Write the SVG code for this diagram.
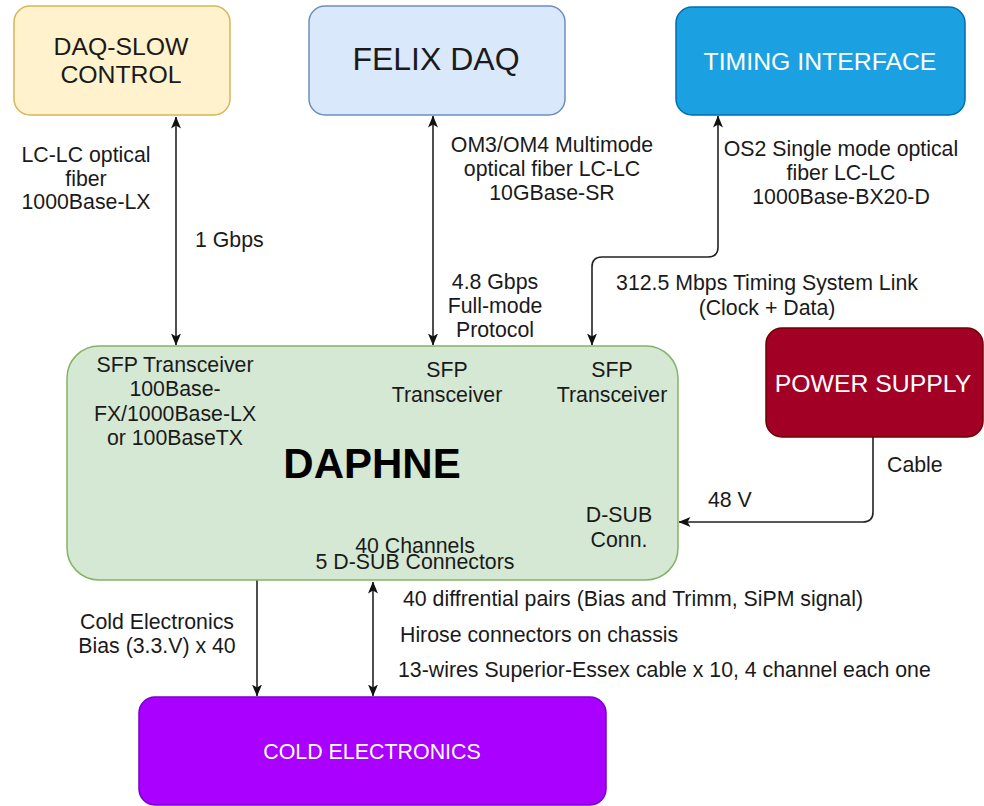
<svg xmlns="http://www.w3.org/2000/svg" width="984" height="806" viewBox="0 0 984 806">
<style>
text{font-family:"Liberation Sans",Arial,sans-serif;fill:#1a1a1a}
.lbl{font-size:21.3px}
.mid{text-anchor:middle}
.ttl{font-size:24.8px}
.wht{fill:#ffffff}
.con{fill:none;stroke:#222;stroke-width:1.6}
</style>
<defs>
<marker id="arr" viewBox="0 0 12 10" refX="11.5" refY="5" markerWidth="12" markerHeight="10" markerUnits="userSpaceOnUse" orient="auto-start-reverse">
<path d="M0,0 L12,5 L0,10 L3,5 Z" fill="#111"/>
</marker>
</defs>
<rect width="984" height="806" fill="#ffffff"/>

<g id="connectors">
<path class="con" d="M176,117 L176,345" marker-start="url(#arr)" marker-end="url(#arr)"/>
<path class="con" d="M433,116 L433,345" marker-start="url(#arr)" marker-end="url(#arr)"/>
<path class="con" d="M718,116 L718,247 Q718,257 708,257 L602,257 Q592,257 592,267 L592,345" marker-start="url(#arr)" marker-end="url(#arr)"/>
<path class="con" d="M873,437 L873,512 Q873,522 863,522 L679,522" marker-end="url(#arr)"/>
<path class="con" d="M257,580 L257,696" marker-end="url(#arr)"/>
<path class="con" d="M373,582 L373,696" marker-start="url(#arr)" marker-end="url(#arr)"/>
<text class="lbl mid" x="86" y="162">LC-LC optical</text>
<text class="lbl mid" x="86" y="186">fiber</text>
<text class="lbl mid" x="86" y="209">1000Base-LX</text>
<text class="lbl" x="195" y="247">1 Gbps</text>
<text class="lbl mid" x="552" y="152">OM3/OM4 Multimode</text>
<text class="lbl mid" x="552" y="176">optical fiber LC-LC</text>
<text class="lbl mid" x="552" y="200">10GBase-SR</text>
<text class="lbl mid" x="495" y="289">4.8 Gbps</text>
<text class="lbl mid" x="495" y="313">Full-mode</text>
<text class="lbl mid" x="495" y="337">Protocol</text>
<text class="lbl mid" x="841" y="156">OS2 Single mode optical</text>
<text class="lbl mid" x="841" y="180">fiber LC-LC</text>
<text class="lbl mid" x="841" y="204">1000Base-BX20-D</text>
<text class="lbl mid" x="767" y="290">312.5 Mbps Timing System Link</text>
<text class="lbl mid" x="767" y="315">(Clock + Data)</text>
<text class="lbl" x="708" y="507">48 V</text>
<text class="lbl" x="887" y="472">Cable</text>
<text class="lbl mid" x="157" y="629">Cold Electronics</text>
<text class="lbl mid" x="157" y="653">Bias (3.3.V) x 40</text>
<text class="lbl" x="403" y="606">40 diffrential pairs (Bias and Trimm, SiPM signal)</text>
<text class="lbl" x="400" y="642">Hirose connectors on chassis</text>
<text class="lbl" x="398" y="677">13-wires Superior-Essex cable x 10, 4 channel each one</text>
</g>

<g id="daq-slow">
<rect x="14" y="6" width="216" height="109" rx="16" fill="#fff2cc" stroke="#d6b656" stroke-width="1.5"/>
<text class="ttl mid" x="121" y="55">DAQ-SLOW</text>
<text class="ttl mid" x="121" y="83">CONTROL</text>
</g>

<g id="felix">
<rect x="309" y="6" width="256" height="109" rx="16" fill="#dae8fc" stroke="#6c8ebf" stroke-width="1.5"/>
<text class="mid" x="436" y="70" font-size="32">FELIX DAQ</text>
</g>

<g id="timing">
<rect x="676" y="7" width="289" height="108" rx="16" fill="#1ba1e2" stroke="#006eaf" stroke-width="1.5"/>
<text class="ttl mid wht" x="820" y="70">TIMING INTERFACE</text>
</g>

<g id="daphne">
<rect x="67" y="346" width="611" height="234" rx="32" fill="#d5e8d4" stroke="#82b366" stroke-width="1.5"/>
<text class="lbl mid" x="175" y="372">SFP Transceiver</text>
<text class="lbl mid" x="175" y="396">100Base-</text>
<text class="lbl mid" x="175" y="421">FX/1000Base-LX</text>
<text class="lbl mid" x="175" y="445">or 100BaseTX</text>
<text class="lbl mid" x="447" y="377">SFP</text>
<text class="lbl mid" x="447" y="402">Transceiver</text>
<text class="lbl mid" x="612" y="377">SFP</text>
<text class="lbl mid" x="612" y="402">Transceiver</text>
<text class="mid" x="372" y="478" font-size="42" font-weight="bold" style="fill:#000">DAPHNE</text>
<text class="lbl mid" x="619" y="522">D-SUB</text>
<text class="lbl mid" x="619" y="547">Conn.</text>
<text class="lbl mid" x="415" y="553">40 Channels</text>
<text class="lbl mid" x="415" y="569">5 D-SUB Connectors</text>
</g>

<g id="power">
<rect x="766" y="328" width="217" height="109" rx="16" fill="#a20025" stroke="#6f0000" stroke-width="1.5"/>
<text class="ttl mid wht" x="873" y="392">POWER SUPPLY</text>
</g>

<g id="cold">
<rect x="139" y="697" width="467" height="108" rx="16" fill="#aa00ff" stroke="#7700cc" stroke-width="1.5"/>
<text class="mid wht" x="372" y="759" font-size="21.4">COLD ELECTRONICS</text>
</g>
</svg>
